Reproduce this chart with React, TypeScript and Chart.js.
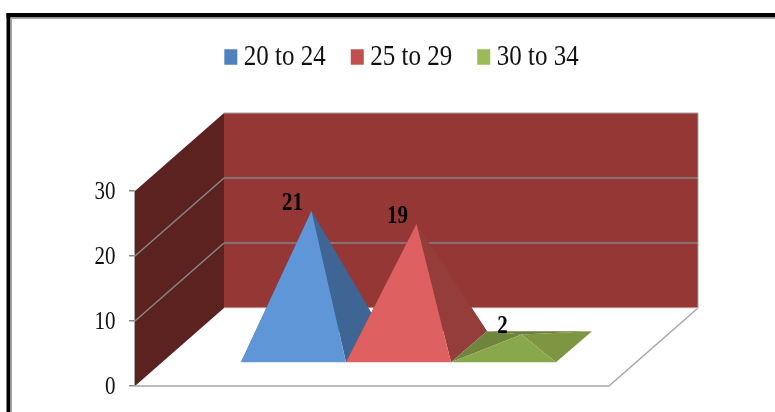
import { useEffect, useRef } from "react";
import { Chart, registerables } from "chart.js";

Chart.register(...registerables);

// Values
const categories = ["Age group"];
const seriesNames = ["20 to 24", "25 to 29", "30 to 34"];
const values2024 = [21];
const values2529 = [19];
const values3034 = [2];
const valueTicks = [0, 10, 20, 30];

// Colours
const legendColors = ["#4f81bd", "#c0504d", "#9bbb59"];
const frontFaces = ["#5f96d7", "#de6060", "#89a84c"];
const rightFaces = ["#3f6594", "#953d3b", "#7e9642"];
const leftFaces = ["#3f6594", "#953d3b", "#6f853c"];
const backFaces = ["#3f6594", "#953d3b", "#6a7d3a"];
const WALL_BACK = "#953735";
const WALL_LEFT = "#5c2220";
const GRID = "#868686";
const EDGE = "#a6a6a6";

// Oblique projection of the box: depth of the whole floor and of each pyramid
const DEPTH_X = 89;
const DEPTH_Y = 78;
const BAR_DEPTH_X = 36;
const BAR_DEPTH_Y = 31;
const BAR_FRONT_X = 26.5;
const BAR_FRONT_Y = 23;

// Text in this chart is drawn slightly taller than wide
const TEXT_STRETCH = 1.2;
const SERIF = "'Liberation Serif', serif";

function poly(ctx: CanvasRenderingContext2D, color: string, pts: number[][]) {
  ctx.fillStyle = color;
  ctx.beginPath();
  pts.forEach((p, i) => (i ? ctx.lineTo(p[0], p[1]) : ctx.moveTo(p[0], p[1])));
  ctx.closePath();
  ctx.fill();
}

function line(ctx: CanvasRenderingContext2D, color: string, w: number, a: number[], b: number[]) {
  ctx.strokeStyle = color;
  ctx.lineWidth = w;
  ctx.beginPath();
  ctx.moveTo(a[0], a[1]);
  ctx.lineTo(b[0], b[1]);
  ctx.stroke();
}

function tallText(ctx: CanvasRenderingContext2D, text: string, x: number, y: number) {
  ctx.save();
  ctx.translate(x, y);
  ctx.scale(1, TEXT_STRETCH);
  ctx.fillText(text, 0, 0);
  ctx.restore();
}

const framePlugin = {
  id: "frame",
  beforeDraw(chart: any) {
    const { ctx, width, height } = chart;
    ctx.save();
    ctx.fillStyle = "#ffffff";
    ctx.fillRect(0, 0, width, height);
    ctx.fillStyle = "#000000";
    ctx.fillRect(6.5, 13, width, 4.5);
    ctx.fillRect(6.5, 13, 4, height);
    ctx.fillStyle = "#a6a6a6";
    ctx.fillRect(10.5, 17.5, width, 1.5);
    ctx.fillRect(10.5, 17.5, 1.5, height);
    ctx.restore();
  },
};

const legendPlacement = {
  id: "legendPlacement",
  afterLayout(chart: any) {
    const legend = chart.legend;
    const centre = 404.5;
    const half = (legend.right - legend.left) / 2;
    legend.left = centre - half;
    legend.right = centre + half;
    legend.top = 13.5;
    legend.bottom = 100;
    if (!legend.__tall) {
      legend.__tall = true;
      const draw = legend.draw;
      legend.draw = function () {
        const ctx = chart.ctx;
        ctx.save();
        ctx.translate(0, 57);
        ctx.scale(1, TEXT_STRETCH);
        ctx.translate(0, -57);
        draw.call(legend);
        ctx.restore();
      };
    }
  },
};

const pyramidScene = {
  id: "pyramidScene",
  beforeDatasetsDraw(chart: any) {
    const { ctx, chartArea, scales } = chart;
    const y = scales.y;
    const { left, right, bottom } = chartArea;
    const y0 = y.getPixelForValue(0);
    const yMax = y.getPixelForValue(valueTicks[valueTicks.length - 1]);

    ctx.save();
    ctx.lineCap = "butt";

    // Walls
    poly(ctx, WALL_LEFT, [
      [left, y0],
      [left, yMax],
      [left + DEPTH_X, yMax - DEPTH_Y],
      [left + DEPTH_X, y0 - DEPTH_Y],
    ]);
    poly(ctx, WALL_BACK, [
      [left + DEPTH_X, y0 - DEPTH_Y],
      [left + DEPTH_X, yMax - DEPTH_Y],
      [right + DEPTH_X, yMax - DEPTH_Y],
      [right + DEPTH_X, y0 - DEPTH_Y],
    ]);

    // Gridlines following both walls
    valueTicks.forEach((v) => {
      const py = y.getPixelForValue(v);
      if (v > 0 && v < valueTicks[valueTicks.length - 1]) {
        line(ctx, GRID, 1.5, [left, py], [left + DEPTH_X, py - DEPTH_Y]);
        line(ctx, GRID, 1.5, [left + DEPTH_X, py - DEPTH_Y], [right + DEPTH_X, py - DEPTH_Y]);
      }
    });
    line(ctx, EDGE, 1.2, [left + DEPTH_X, yMax - DEPTH_Y], [right + DEPTH_X, yMax - DEPTH_Y]);
    line(ctx, EDGE, 1, [right + DEPTH_X, yMax - DEPTH_Y], [right + DEPTH_X, y0 - DEPTH_Y]);

    // Floor edges
    line(ctx, EDGE, 1.5, [left, bottom], [right, bottom]);
    line(ctx, EDGE, 1.5, [right, bottom], [right + DEPTH_X, y0 - DEPTH_Y]);
    line(ctx, "#dddddd", 1, [left + DEPTH_X, y0 - DEPTH_Y], [right + DEPTH_X, y0 - DEPTH_Y]);

    // Pyramids, one per dataset
    chart.data.datasets.forEach((ds: any, i: number) => {
      const bar = chart.getDatasetMeta(i).data[0];
      const half = bar.width / 2;
      const cx = bar.x + BAR_FRONT_X;
      const fy = bar.base - BAR_FRONT_Y;
      const by = fy - BAR_DEPTH_Y;
      const fl = [cx - half, fy];
      const fr = [cx + half, fy];
      const bl = [cx - half + BAR_DEPTH_X, by];
      const br = [cx + half + BAR_DEPTH_X, by];
      const apex = [cx + BAR_DEPTH_X / 2, bar.y - BAR_FRONT_Y - BAR_DEPTH_Y / 2];
      poly(ctx, backFaces[i], [bl, br, apex]);
      poly(ctx, leftFaces[i], [fl, bl, apex]);
      poly(ctx, rightFaces[i], [fr, br, apex]);
      poly(ctx, frontFaces[i], [fl, fr, apex]);
    });

    // Value labels
    ctx.fillStyle = "#000000";
    ctx.font = `bold 21px ${SERIF}`;
    ctx.textAlign = "center";
    ctx.textBaseline = "middle";
    chart.data.datasets.forEach((ds: any, i: number) => {
      const bar = chart.getDatasetMeta(i).data[0];
      const apexY = bar.y - BAR_FRONT_Y - BAR_DEPTH_Y / 2;
      tallText(ctx, String(ds.data[0]), bar.x + BAR_FRONT_X - 1, apexY - 8);
    });

    // Value axis labels
    ctx.fillStyle = "#111111";
    ctx.font = `21px ${SERIF}`;
    ctx.textAlign = "right";
    y.ticks.forEach((t: any) => {
      tallText(ctx, String(t.value), 115.5, y.getPixelForValue(t.value) + 1.5);
    });

    ctx.restore();
    return false;
  },
};

export default function App() {
  const canvasRef = useRef<HTMLCanvasElement>(null);

  useEffect(() => {
    const seriesValues = [values2024, values2529, values3034];
    const chart = new Chart(canvasRef.current as HTMLCanvasElement, {
      type: "bar",
      data: {
        labels: categories,
        datasets: seriesNames.map((name, i) => ({
          label: name,
          data: seriesValues[i],
          backgroundColor: legendColors[i],
          borderWidth: 0,
          categoryPercentage: 0.6646,
          barPercentage: 1,
        })),
      },
      options: {
        responsive: false,
        animation: false,
        layout: { padding: { left: 105, right: 166, top: 125, bottom: 26 } },
        scales: {
          x: { display: false },
          y: {
            min: 0,
            max: 30,
            afterFit: (s: any) => {
              s.width = 30;
            },
            ticks: { stepSize: 10, display: false },
            grid: { drawOnChartArea: false, color: GRID, tickLength: 6, lineWidth: 1.5 },
            border: { color: EDGE, width: 1.5 },
          },
        },
        plugins: {
          tooltip: { enabled: false },
          legend: {
            position: "top",
            labels: {
              color: "#111111",
              font: { family: SERIF, size: 25 },
              usePointStyle: true,
              pointStyle: "rect",
              boxWidth: 1,
              boxHeight: 13,
              padding: 31,
            },
          },
        },
      },
      plugins: [framePlugin, legendPlacement, pyramidScene],
    } as any);
    return () => chart.destroy();
  }, []);

  return (
    <div style={{ position: "absolute", left: 0, top: 0, width: 775, height: 412 }}>
      <canvas ref={canvasRef} width={775} height={412} style={{ display: "block" }} />
    </div>
  );
}
